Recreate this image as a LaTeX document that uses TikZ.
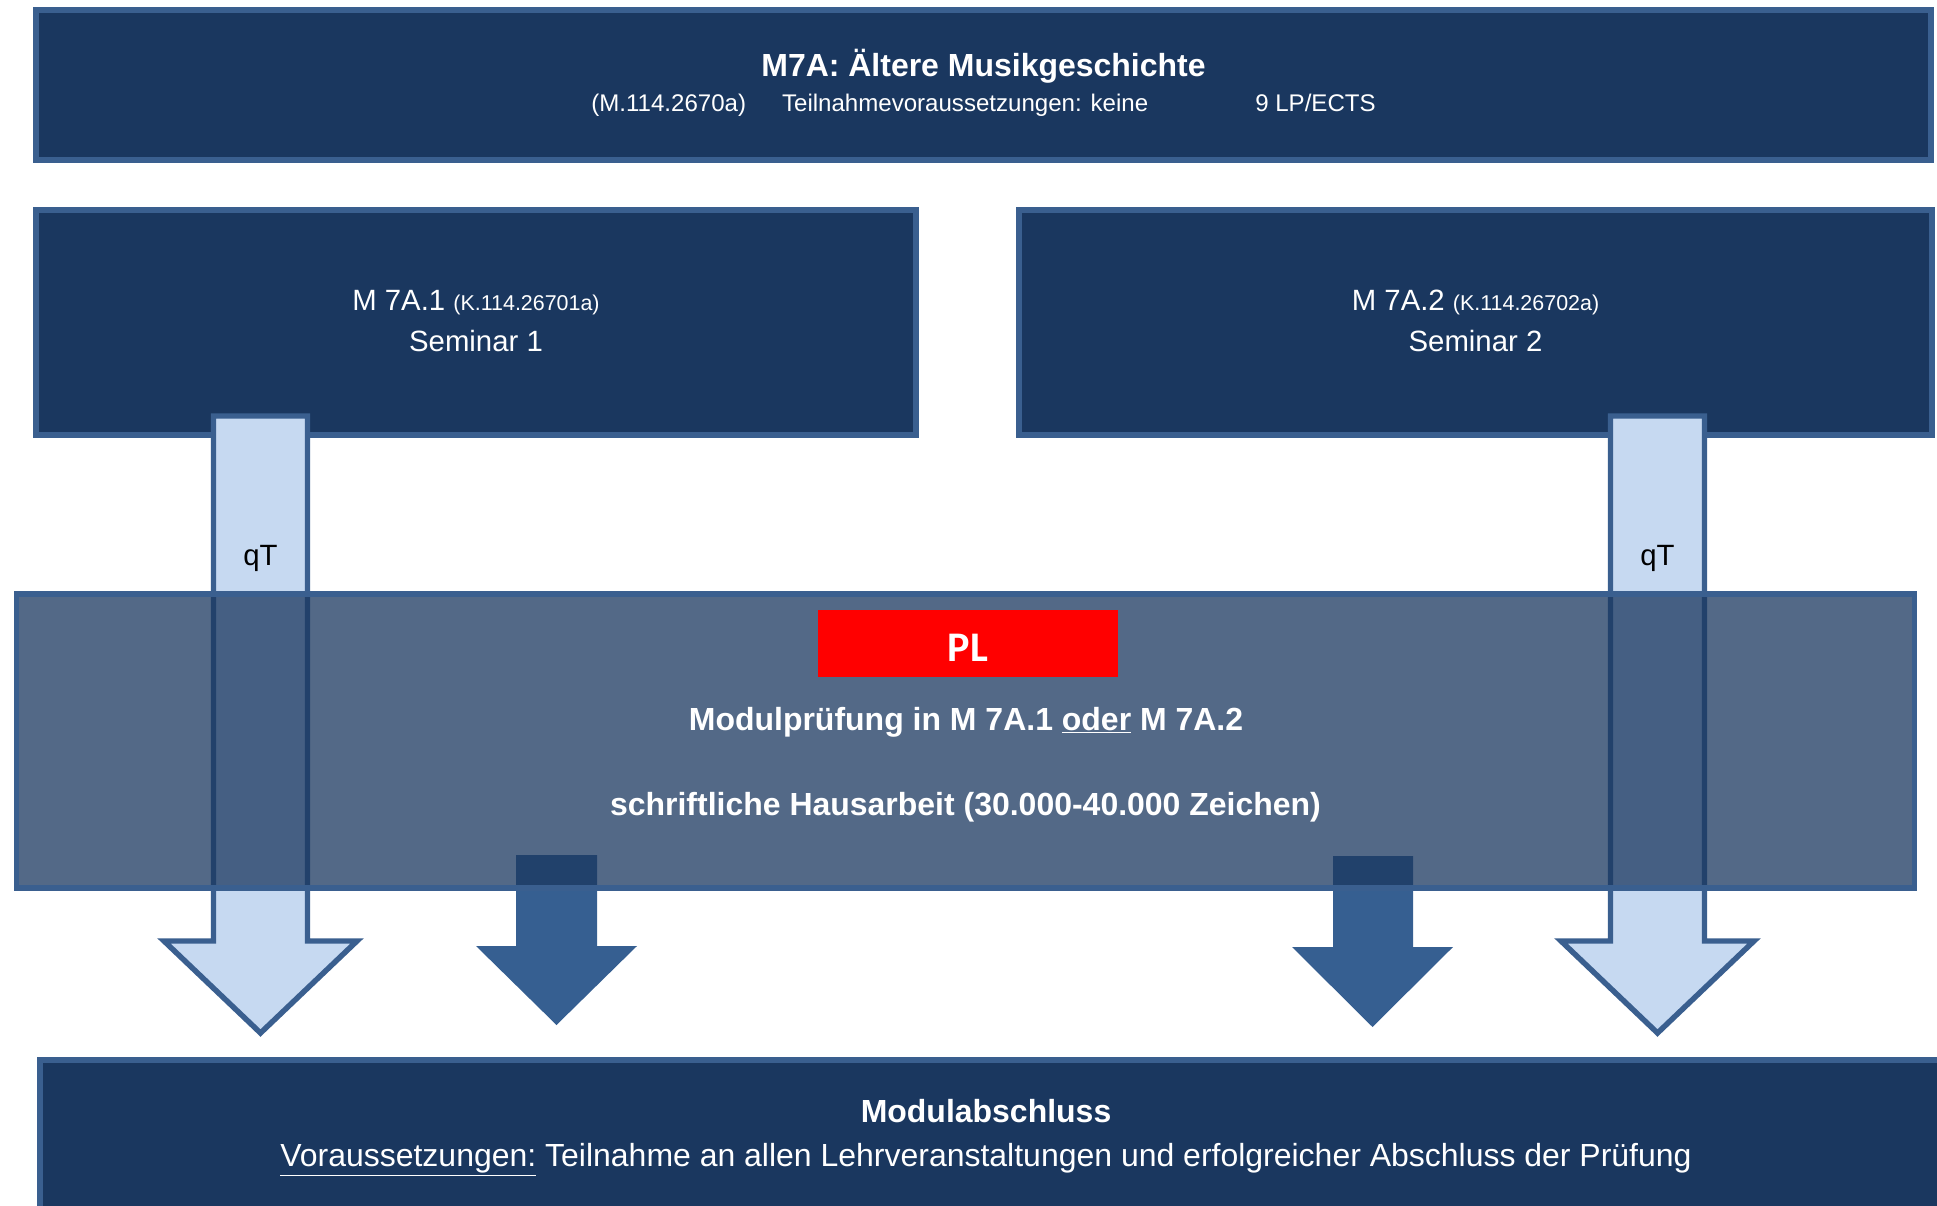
\documentclass[tikz,border=0pt]{standalone}
\usepackage{fontspec}
\setmainfont{Liberation Sans}
\newfontfamily\plfont{Carlito}
\usepackage{xcolor}
\usetikzlibrary{positioning}
\definecolor{boxblue}{HTML}{1A375F}
\definecolor{edgeblue}{HTML}{3A5F8F}
\definecolor{lightblue}{HTML}{C6D9F1}
\definecolor{midblue}{HTML}{365F91}

\begin{document}
\begin{tikzpicture}[x=0.02cm, y=-0.02cm,
		box/.style={fill=boxblue, draw=edgeblue, line width=3.1pt},
		qtarrow/.style={fill=lightblue, draw=edgeblue, line width=3.1pt, line join=miter},
		darrow/.style={fill=midblue},
		lbl/.style={anchor=base, inner sep=0pt, text=white}]
						\useasboundingbox (0,0) rectangle (1937,1206);
						% draw boxes
						\filldraw[box] (36,10) rectangle (1931,160);
						\filldraw[box] (36,210) rectangle (916,435);
						\filldraw[box] (1019,210) rectangle (1932,435);
						% qT arrows
						\filldraw[qtarrow] (213.5,416) -- (213.5,941) -- (164,941) -- (260.5,1033) -- (357,941) -- (307.5,941) -- (307.5,416) -- cycle;
						\filldraw[qtarrow] (1610.5,416) -- (1610.5,941) -- (1561,941) -- (1657.5,1033) -- (1754,941) -- (1704.5,941) -- (1704.5,416) -- cycle;
						% add arrow
						\fill[darrow] (516,855) -- (516,946) -- (476,946) -- (556.5,1025) -- (637,946) -- (597,946) -- (597,855) -- cycle;
						\fill[darrow] (1333,856) -- (1333,947) -- (1292,947) -- (1372.5,1027) -- (1453,947) -- (1413,947) -- (1413,856) -- cycle;
						% exam box on top
						\filldraw[box, fill opacity=0.75] (16.5,594) rectangle (1914.5,888);
						\fill[red] (818,610) rectangle (1118,677);
						\filldraw[box] (40,1060) rectangle (1990,1260);
						
						\node[lbl] (title) at (983.5,77) {\fontsize{18.2pt}{22pt}\selectfont\bfseries M7A: Ältere Musikgeschichte};
						\node[lbl] (info) at (983.5,112) {\fontsize{13.7pt}{16pt}\selectfont (M.114.2670a)\hspace{20.5pt}Teilnahmevoraussetzungen: keine\hspace{60.9pt}9 LP/ECTS};
						\node[lbl] (semA) at (476,311) {\fontsize{16.7pt}{20pt}\selectfont M 7A.1 {\fontsize{12.2pt}{14pt}\selectfont (K.114.26701a)}};
						\node[lbl] (semAname) at (476,351) {\fontsize{16.7pt}{20pt}\selectfont Seminar 1};
						\node[lbl] (semB) at (1475.5,311) {\fontsize{16.7pt}{20pt}\selectfont M 7A.2 {\fontsize{12.2pt}{14pt}\selectfont (K.114.26702a)}};
						\node[lbl] (semBname) at (1475.5,351) {\fontsize{16.7pt}{20pt}\selectfont Seminar 2};
						\node[lbl, text=black] (qtA) at (260.5,565) {\fontsize{16.7pt}{20pt}\selectfont qT};
						\node[lbl, text=black] (qtB) at (1657.5,565) {\fontsize{16.7pt}{20pt}\selectfont qT};
						\node[lbl] (pl) at (968,661) {\fontsize{24pt}{28pt}\selectfont\plfont\bfseries PL};
						\node[lbl] (exam) at (966,730) {\fontsize{18.2pt}{22pt}\selectfont\bfseries Modulprüfung in M 7A.1 \underline{oder} M 7A.2};
						\node[lbl] (task) at (965.5,815) {\fontsize{18.2pt}{22pt}\selectfont\bfseries schriftliche Hausarbeit (30.000-40.000 Zeichen)};
						\node[lbl] (end) at (986,1122) {\fontsize{18.2pt}{22pt}\selectfont\bfseries Modulabschluss};
						\node[lbl] (cond) at (986,1166) {\fontsize{18.2pt}{22pt}\selectfont \underline{Voraussetzungen:} Teilnahme an allen Lehrveranstaltungen und erfolgreicher Abschluss der Prüfung};
					\end{tikzpicture}
\end{document}
